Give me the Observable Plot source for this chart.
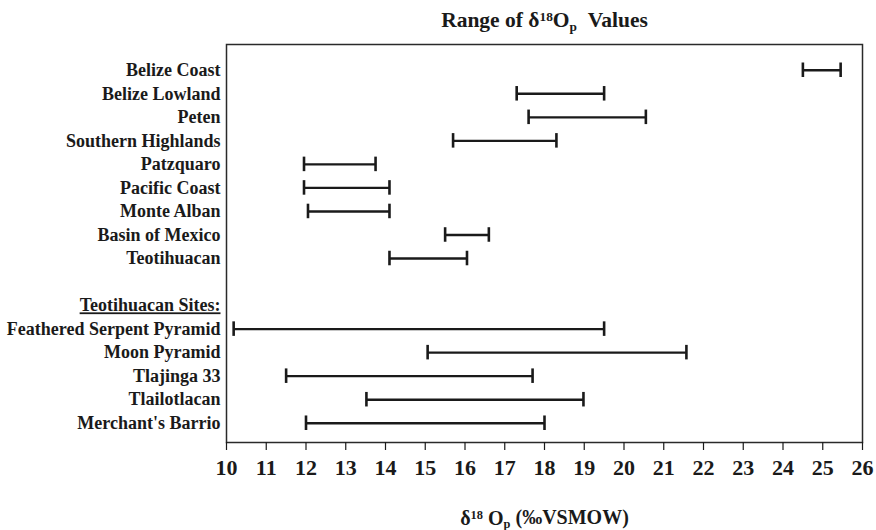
<!DOCTYPE html>
<html>
<head>
<meta charset="utf-8">
<script src="https://cdn.jsdelivr.net/npm/d3@7"></script>
<script src="https://cdn.jsdelivr.net/npm/@observablehq/plot@0.6"></script>
<style>
  html, body { margin: 0; padding: 0; background: #fff; }
  #chart svg { display: block; }
</style>
</head>
<body>
<div id="chart"></div>
<script>
// ---- data ----
const regions = ["Belize Coast", "Belize Lowland", "Peten", "Southern Highlands", "Patzquaro",
  "Pacific Coast", "Monte Alban", "Basin of Mexico", "Teotihuacan"];
const regionLow  = [24.5, 17.3, 17.6, 15.7, 11.95, 11.95, 12.05, 15.5, 14.1];
const regionHigh = [25.45, 19.5, 20.55, 18.3, 13.75, 14.1, 14.1, 16.6, 16.05];

const siteHeader = "Teotihuacan Sites:";
const sites = ["Feathered Serpent Pyramid", "Moon Pyramid", "Tlajinga 33", "Tlailotlacan", "Merchant's Barrio"];
const siteLow  = [10.18, 15.06, 11.5, 13.52, 12.0];
const siteHigh = [19.5, 21.57, 17.7, 18.98, 18.0];

const xTicks = [10, 11, 12, 13, 14, 15, 16, 17, 18, 19, 20, 21, 22, 23, 24, 25, 26];

// ---- build table ----
const rows = [
  ...regions.map((name, i) => ({name, lo: regionLow[i], hi: regionHigh[i]})),
  ...sites.map((name, i) => ({name, lo: siteLow[i], hi: siteHigh[i]}))
];
const yDomain = [...regions, "", siteHeader, ...sites];

const TITLE = "__TITLE__";
const XLABEL = "__XLABEL__";

const ink = "#1a1a1a";

const chart = Plot.plot({
  width: 876,
  height: 530,
  marginLeft: 226,
  marginRight: 14,
  marginTop: 44,
  marginBottom: 88,
  style: {fontFamily: "'Liberation Serif', 'Times New Roman', serif", fontWeight: "bold", color: ink, background: "#fff"},
  x: {domain: [10, 26], ticks: xTicks},
  y: {type: "band", domain: yDomain, padding: 0, round: false, insetTop: 14, insetBottom: 7.5},
  marks: [
    Plot.frame({stroke: "#2a2a2a", strokeWidth: 1.5}),
    Plot.axisX({ticks: xTicks, tickSize: 8, tickPadding: 9, fontSize: 22, fontWeight: "bold",
      strokeWidth: 1.2, label: XLABEL, labelAnchor: "center", labelArrow: "none", labelOffset: 82}),
    Plot.axisY({tickSize: 0, tickPadding: 6, fontSize: 18, fontWeight: "bold", label: null}),
    Plot.ruleY(rows, {y: "name", x1: "lo", x2: "hi", stroke: ink, strokeWidth: 2.4}),
    Plot.tickX(rows, {x: "lo", y: "name", stroke: ink, strokeWidth: 2.6, insetTop: 4.5, insetBottom: 4.5}),
    Plot.tickX(rows, {x: "hi", y: "name", stroke: ink, strokeWidth: 2.6, insetTop: 4.5, insetBottom: 4.5}),
    Plot.text([TITLE], {frameAnchor: "top", text: d => d, dy: -24, lineAnchor: "middle",
      fontSize: 21.5, fontWeight: "bold", fill: ink})
  ]
});
document.getElementById("chart").appendChild(chart);

// ---- rich text (superscripts / subscripts, underline) ----
const svg = d3.select(chart);
function rich(el, parts) {
  const t = d3.select(el);
  t.text(null);
  parts.forEach(([s, kind]) => {
    const ts = t.append("tspan").text(s);
    if (kind === "sup") ts.attr("dy", "-0.45em").attr("font-size", "0.62em");
    else if (kind === "sub") ts.attr("dy", "0.3em").attr("font-size", "0.62em");
    else if (kind === "back-sup") ts.attr("dy", "0.28em");
    else if (kind === "back-sub") ts.attr("dy", "-0.19em");
  });
}
svg.selectAll("text").each(function() {
  const txt = this.textContent;
  if (txt === TITLE) {
    rich(this, [["Range of δ"], ["18", "sup"], ["O", "back-sup"], ["p", "sub"], ["\u00a0\u00a0Values", "back-sub"]]);
  } else if (txt.startsWith(XLABEL)) {
    d3.select(this).attr("font-size", 20);
    rich(this, [["δ"], ["18", "sup"], ["\u00a0O", "back-sup"], ["p", "sub"], ["\u00a0(‰VSMOW)", "back-sub"]]);
  } else if (txt === siteHeader) {
    d3.select(this).style("text-decoration", "underline");
  }
});
</script>
</body>
</html>
